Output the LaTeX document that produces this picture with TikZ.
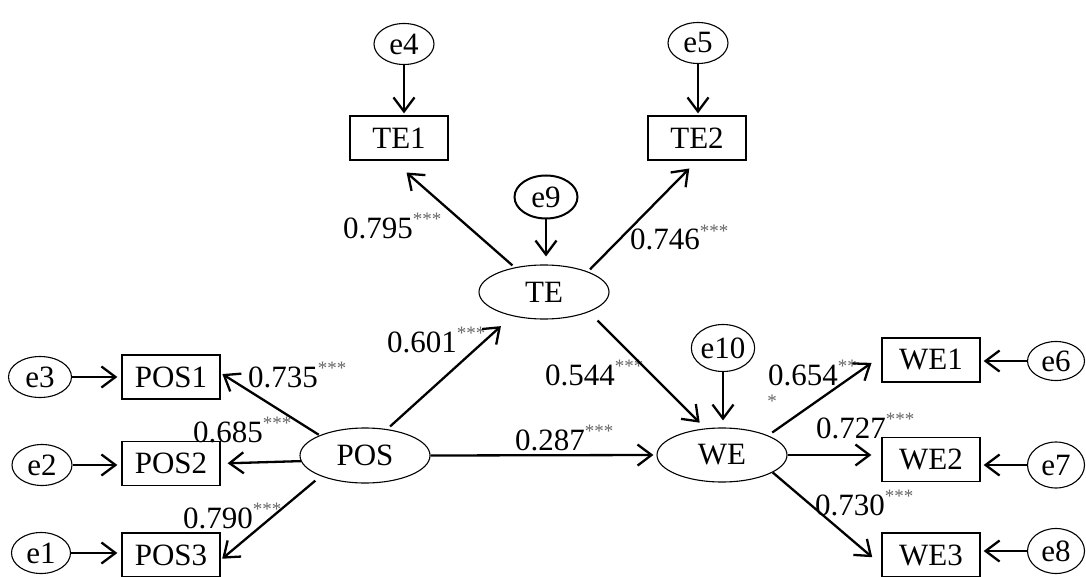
\documentclass[tikz,border=0pt]{standalone}
\usepackage{fontspec}
\setmainfont{Liberation Serif}
\usetikzlibrary{shapes.geometric,arrows.meta,calc}
\newcommand\sigstars[1]{\raisebox{13pt}{\fontsize{19}{19}\selectfont\color{black!60}#1}}
\begin{document}
\begin{tikzpicture}[x=1pt,y=-1pt,
  every node/.style={font=\fontsize{31}{36}\selectfont, inner sep=0pt},
  obs/.style={draw, rectangle, line width=1.3pt, minimum width=98pt, minimum height=44pt},
  lat/.style={draw, ellipse, line width=1.1pt, minimum width=130pt, minimum height=54pt},
  err/.style={draw, ellipse, line width=1.1pt, minimum width=60pt, minimum height=41pt},
  conn/.style={line width=2.3pt, -{Straight Barb[length=14pt,width=21pt,line width=2.3pt]}},
  coef/.style={anchor=base west},
]
\useasboundingbox (0,0) rectangle (1086,577);
% observed
\node[obs] (TE1) at (399,138) {TE1};
\node[obs] (TE2) at (697,138) {TE2};
\node[obs] (POS1) at (171,377) {POS1};
\node[obs] (POS2) at (171,463.5) {POS2};
\node[obs] (POS3) at (171,555) {POS3};
\node[obs] (WE1) at (931,360) {WE1};
\node[obs] (WE2) at (931,459.5) {WE2};
\node[obs] (WE3) at (931,555) {WE3};
% latent
\node[lat] (TE) at (544,292) {TE};
\node[lat, minimum height=55pt] (POS) at (365,455.5) {POS};
\node[lat] (WE) at (722,455) {WE};
% errors
\node[err] (e4) at (404,44) {e4};
\node[err] (e5) at (698,43) {e5};
\node[err, line width=2pt, minimum width=63pt, minimum height=43pt] (e9) at (546,197) {e9};
\node[err, minimum height=47pt] (e10) at (723,348) {e10};
\node[err, minimum width=63pt] (e3) at (40,377) {e3};
\node[err] (e2) at (42,465) {e2};
\node[err, minimum width=59pt] (e1) at (41,553) {e1};
\node[err, minimum width=57pt, minimum height=39pt] (e6) at (1056,361) {e6};
\node[err, minimum width=57pt, minimum height=46pt] (e7) at (1056,465) {e7};
\node[err, minimum width=57pt, minimum height=45pt] (e8) at (1056,551) {e8};
% coefficient labels
\node[coef] (l795) at (343,239) {0.795\sigstars{***}};
\node[coef] (l746) at (630,250) {0.746\sigstars{***}};
\node[coef] (l601) at (387,352) {0.601\sigstars{***}};
\node[coef] (l544) at (545,385) {0.544\sigstars{***}};
\node[coef] (l287) at (515,450) {0.287\sigstars{***}};
\node[coef] (l735) at (248,387) {0.735\sigstars{***}};
\node[coef] (l685) at (193,442) {0.685\sigstars{***}};
\node[coef] (l790) at (183,528) {0.790\sigstars{***}};
\node[coef] (l654) at (768,385) {0.654\sigstars{**}};
\node[font=\fontsize{19}{19}\selectfont, text=black!60] (l654b) at (772,401) {*};
\node[coef] (l727) at (816,438) {0.727\sigstars{***}};
\node[coef] (l730) at (815,515) {0.730\sigstars{***}};
% error arrows
\draw[conn, shorten >=2pt] (e4.south) -- (e4.south |- TE1.north);
\draw[conn, shorten >=2pt] (e5.south) -- (e5.south |- TE2.north);
\draw[conn, shorten >=8pt] (e9.south) -- (e9.south |- TE.north);
\draw[conn, shorten >=7pt] (e10.south) -- (e10.south |- WE.north);
\draw[conn, shorten >=4pt] (e3.east) -- (e3.east -| POS1.west);
\draw[conn, shorten >=4pt] (e2.east) -- (e2.east -| POS2.west);
\draw[conn, shorten >=4pt] (e1.east) -- (e1.east -| POS3.west);
\draw[conn, shorten >=3pt] (e6.west) -- (e6.west -| WE1.east);
\draw[conn, shorten >=3pt] (e7.west) -- (e7.west -| WE2.east);
\draw[conn, shorten >=3pt] (e8.west) -- (e8.west -| WE3.east);
% loadings
\draw[conn, shorten <=3pt, shorten >=18pt] (TE.140) -- ([xshift=-6pt]TE1.south);
\draw[conn, shorten <=3pt, shorten >=11pt] (TE.25) -- (TE2.south);
\draw[conn, shorten <=1pt, shorten >=2pt] (POS.156) -- ([yshift=4pt]POS1.east);
\draw[conn, shorten >=7pt] (POS.185) -- (POS2.east);
\draw[conn, shorten <=7pt, shorten >=2pt] (POS.205) -- ([yshift=-5pt]POS3.east);
\draw[conn, shorten <=5pt, shorten >=12pt] (WE.23) -- ([yshift=4pt]WE1.west);
\draw[conn, shorten >=10pt] (WE.east) -- (WE.east -| WE2.west);
\draw[conn, shorten >=12pt] (WE.-19) -- ([yshift=-10pt]WE3.west);
% structural paths
\draw[conn, shorten <=4pt, shorten >=15pt] (POS.50) -- (TE.217);
\draw[conn, shorten >=3pt] (POS.east) -- (WE.west);
\draw[conn, shorten <=12pt, shorten >=8pt] (TE.-24) -- (WE.122);
\end{tikzpicture}
\end{document}
